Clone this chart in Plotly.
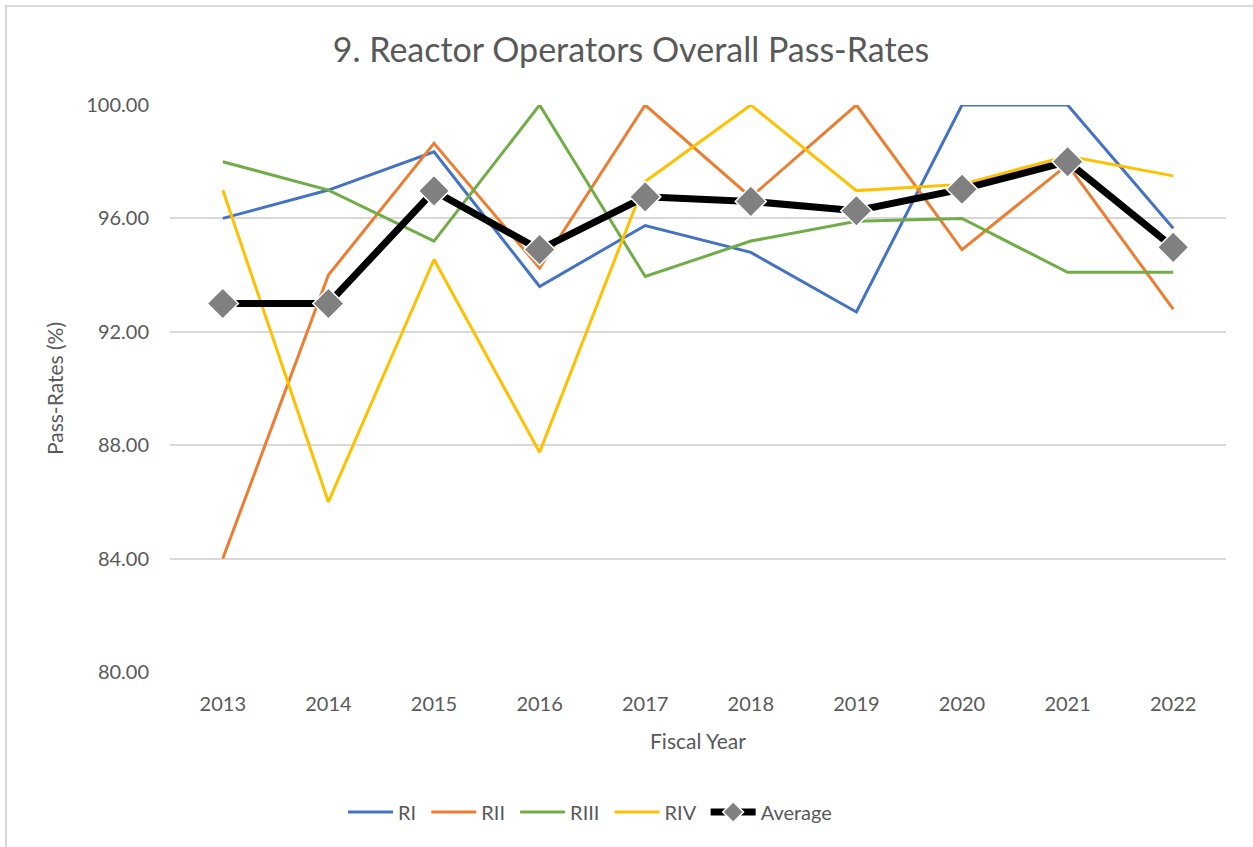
import plotly.graph_objects as go

years = ["2013", "2014", "2015", "2016", "2017", "2018", "2019", "2020", "2021", "2022"]
ri = [96.0, 97.0, 98.35, 93.6, 95.75, 94.8, 92.7, 100.0, 100.0, 95.65]
rii = [84.0, 94.0, 98.65, 94.25, 100.0, 96.75, 100.0, 94.9, 97.9, 92.8]
riii = [98.0, 97.0, 95.2, 100.0, 93.95, 95.2, 95.9, 96.0, 94.1, 94.1]
riv = [97.0, 86.0, 94.55, 87.75, 97.3, 100.0, 96.98, 97.2, 98.2, 97.5]
average = [93.0, 93.0, 96.97, 94.9, 96.76, 96.6, 96.27, 97.03, 98.0, 94.98]

FONT = "Lato"
TXT = "#595959"
W, H = 1253, 847
L, R, T, B = 170, 27, 105, 175
PW, PH = W - L - R, H - T - B
PAD = "\u00a0"

fig = go.Figure()
for name, vals, col in [("RI", ri, "#4472C4"), ("RII", rii, "#ED7D31"),
                        ("RIII", riii, "#70AD47"), ("RIV", riv, "#FFC000")]:
    fig.add_trace(go.Scatter(x=years, y=vals, name=name + PAD, mode="lines",
                             line=dict(color=col, width=3)))
fig.add_trace(go.Scatter(x=years, y=average, name="Average", mode="lines+markers",
                         line=dict(color="black", width=7),
                         marker=dict(symbol="diamond", size=24, color="#808080",
                                     line=dict(color="white", width=1.5))))

fig.update_layout(
    width=W, height=H,
    paper_bgcolor="white", plot_bgcolor="white",
    margin=dict(l=L, r=R, t=T, b=B),
    font=dict(family=FONT, color=TXT, size=20),
    title=dict(text="9. Reactor Operators Overall Pass-Rates", x=631 / W, xanchor="center",
               y=1 - 50 / H, yanchor="middle",
               font=dict(family=FONT, size=34, color=TXT)),
    xaxis=dict(type="category", range=[-0.5, 9.5], showgrid=False, zeroline=False,
               showline=False, ticks="", ticklabelstandoff=18,
               tickfont=dict(size=20, color=TXT),
               title=dict(text="Fiscal Year", font=dict(size=21, color=TXT), standoff=20)),
    yaxis=dict(range=[80, 100], dtick=4, tick0=80, tickformat=".2f",
               showgrid=True, gridcolor="#D9D9D9", gridwidth=1.5, zeroline=False,
               showline=False, ticks="", ticklabelstandoff=20,
               tickfont=dict(size=20, color=TXT),
               title=dict(text="Pass-Rates (%)", font=dict(size=21, color=TXT), standoff=16)),
    legend=dict(orientation="h", x=(343 - L) / PW, xref="paper", xanchor="left",
                y=-(812 - (H - B)) / PH, yanchor="middle",
                font=dict(size=20, color=TXT), itemwidth=45, traceorder="normal"),
    shapes=[dict(type="rect", xref="paper", yref="paper",
                 x0=(6 - L) / PW, x1=1 + 60 / PW, y0=-(B + 60) / PH, y1=1 + (T - 6) / PH,
                 line=dict(color="#D9D9D9", width=2))],
)
fig.write_html("out.html", post_script="document.body.style.margin='0';",
               config={"displayModeBar": False})
